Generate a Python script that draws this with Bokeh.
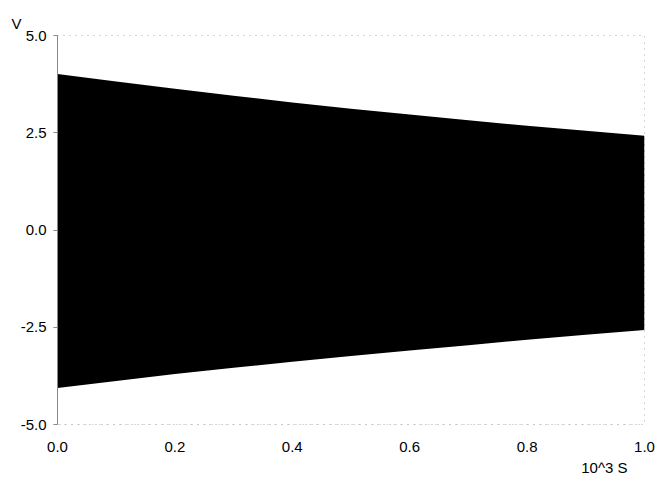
from bokeh.plotting import figure
from bokeh.models import Range1d, FixedTicker, Title
from bokeh.embed import file_html
from bokeh.resources import INLINE

# time in 10^3 s
t_vals = [0.0, 0.1, 0.2, 0.3, 0.4, 0.5, 0.6, 0.7, 0.8, 0.9, 1.0]
# envelope of the oscillating voltage (V)
upper = [4.01, 3.82, 3.63, 3.45, 3.28, 3.12, 2.97, 2.82, 2.68, 2.55, 2.42]
lower = [-4.06, -3.88, -3.70, -3.54, -3.39, -3.24, -3.10, -2.96, -2.82, -2.69, -2.57]

x_ticks = [0.0, 0.2, 0.4, 0.6, 0.8, 1.0]
y_ticks = [-5.0, -2.5, 0.0, 2.5, 5.0]

FONT = "Liberation Sans"
FS = "15px"

p = figure(width=656, height=481, output_backend="svg", toolbar_location=None,
           x_range=Range1d(0, 1.0), y_range=Range1d(-5.0, 5.0),
           min_border_left=57, min_border_right=12, min_border_top=35, min_border_bottom=57)
p.background_fill_color = "white"
p.border_fill_color = "white"
p.outline_line_color = "#aaaaaa"
p.outline_line_dash = "1 5"
p.outline_line_width = 1
p.xgrid.visible = False
p.ygrid.visible = False

p.varea(x=t_vals, y1=lower, y2=upper, fill_color="black", fill_alpha=1.0)

# axes styling
p.xaxis.ticker = FixedTicker(ticks=x_ticks)
p.yaxis.ticker = FixedTicker(ticks=y_ticks)
p.xaxis.major_label_overrides = {v: f"{v:.1f}" for v in x_ticks}
p.yaxis.major_label_overrides = {v: f"{v:.1f}" for v in y_ticks}
p.yaxis.axis_line_color = "#888888"
p.xaxis.axis_line_color = "#bbbbbb"
p.xaxis.axis_line_dash = "1 6"
p.xaxis.major_tick_line_color = None
p.xaxis.major_tick_out = 0
p.xaxis.minor_tick_line_color = None
p.yaxis.minor_tick_line_color = None
p.yaxis.major_tick_line_color = "#888888"
p.yaxis.major_tick_out = 4
p.yaxis.major_tick_in = 0
for ax in (p.xaxis, p.yaxis):
    ax.major_label_text_font = FONT
    ax.major_label_text_font_size = FS
    ax.major_label_text_color = "black"
p.xaxis.major_label_standoff = 17
p.yaxis.major_label_standoff = 7

p.add_layout(Title(text="V", align="left", offset=-46, text_font=FONT, text_font_size=FS,
                   text_font_style="normal", text_color="black", standoff=8), "above")
p.add_layout(Title(text="10^3 S", align="right", offset=17, text_font=FONT, text_font_size=FS,
                   text_font_style="normal", text_color="black", standoff=5), "below")

open("out.html", "w").write(file_html(p, INLINE))
